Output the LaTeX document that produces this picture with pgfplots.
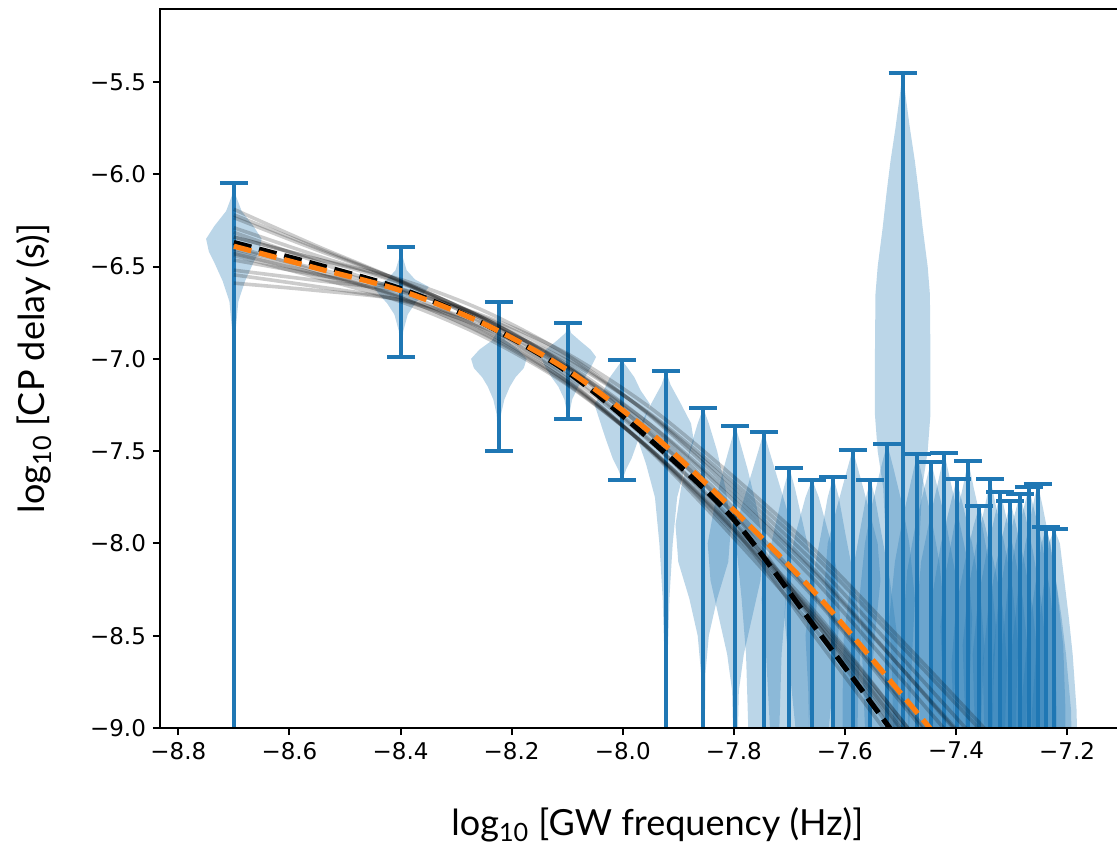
\documentclass[border=0pt]{standalone}
\usepackage{pgfplots}
\pgfplotsset{compat=1.18}
\usepackage{pgfplotstable}
\usepackage{fontspec}
\setmainfont{Lato}
\newfontfamily\tickfont{DejaVu Sans}
\definecolor{tabblue}{HTML}{1F77B4}
\definecolor{taborange}{HTML}{FF7F0E}

% error bars: position, upper and lower end
\pgfplotstableread{
x top bot
-8.700 -6.050 -9.6
-8.399 -6.396 -6.991
-8.223 -6.694 -7.501
-8.098 -6.806 -7.328
-8.001 -7.009 -7.657
-7.922 -7.067 -9.6
-7.855 -7.267 -9.6
-7.797 -7.366 -9.6
-7.746 -7.395 -9.6
-7.700 -7.591 -9.6
-7.659 -7.654 -9.6
-7.621 -7.638 -9.6
-7.586 -7.492 -9.6
-7.554 -7.654 -9.6
-7.524 -7.459 -9.6
-7.496 -5.451 -9.6
-7.470 -7.517 -9.6
-7.445 -7.558 -9.6
-7.421 -7.511 -9.6
-7.399 -7.652 -9.6
-7.378 -7.554 -9.6
-7.358 -7.796 -9.6
-7.338 -7.652 -9.6
-7.320 -7.724 -9.6
-7.302 -7.773 -9.6
-7.285 -7.734 -9.6
-7.269 -7.697 -9.6
-7.253 -7.676 -9.6
-7.238 -7.913 -9.6
-7.223 -7.922 -9.6
}\bars

% one violin: centre, then profile table (y, half width)
\newcommand{\violin}[2]{%
  \addplot[vio] table[x expr={#1-\thisrow{w}}, y=y, row sep=\\] {#2};
  \addplot[vio] table[x expr={#1+\thisrow{w}}, y=y, row sep=\\] {#2};
}

\begin{document}
\begin{tikzpicture}
\begin{axis}[
  name=ax,
  scale only axis,
  width=479.1pt, height=359.5pt,
  xmin=-8.833, xmax=-7.108,
  ymin=-9.0, ymax=-5.105,
  axis on top,
  axis line style={line width=1pt},
  tick style={line width=1pt, black},
  major tick length=3.5pt,
  tick align=outside,
  tick pos=left,
  xtick={-8.8,-8.6,-8.4,-8.2,-8.0,-7.8,-7.6,-7.4,-7.2},
  xticklabels={−8.8,−8.6,−8.4,−8.2,−8.0,−7.8,−7.6,−7.4,−7.2},
  ytick={-9.0,-8.5,-8.0,-7.5,-7.0,-6.5,-6.0,-5.5},
  yticklabels={−9.0,−8.5,−8.0,−7.5,−7.0,−6.5,−6.0,−5.5},
  ticklabel style={font=\tickfont\fontsize{11.5}{13}\selectfont},
  label style={font=\fontsize{18}{21}\selectfont},
  xlabel={log\textsubscript{10} [GW frequency (Hz)]},
  ylabel={log\textsubscript{10} [CP delay (s)]},
  xlabel style={at={(axis description cs:0.519,-0.1488)}, anchor=base},
  ylabel style={at={(axis description cs:-0.1315,0.5)}, anchor=center},
  vio/.style={fill=tabblue, fill opacity=0.3, draw=none, mark=none, forget plot},
  gline/.style={black, draw opacity=0.2, line width=1.8pt, smooth, mark=none, forget plot},
]

% violins
\violin{-8.700}{y w\\ -6.05 0\\ -6.12 0.004\\ -6.20 0.014\\ -6.28 0.035\\ -6.35 0.05\\ -6.42 0.045\\ -6.48 0.035\\ -6.58 0.02\\ -6.69 0.008\\ -6.85 0.003\\ -9.6 0.001\\ -9.61 0\\}
\violin{-8.399}{y w\\ -6.396 0\\ -6.45 0.003\\ -6.52 0.01\\ -6.57 0.025\\ -6.61 0.05\\ -6.65 0.04\\ -6.70 0.025\\ -6.76 0.012\\ -6.85 0.004\\ -6.991 0\\}
\violin{-8.223}{y w\\ -6.694 0\\ -6.85 0.003\\ -6.90 0.012\\ -6.95 0.035\\ -7.00 0.05\\ -7.05 0.045\\ -7.10 0.03\\ -7.15 0.02\\ -7.22 0.01\\ -7.30 0.004\\ -7.501 0\\}
\violin{-8.098}{y w\\ -6.806 0\\ -6.86 0.005\\ -6.90 0.02\\ -6.95 0.04\\ -6.99 0.05\\ -7.05 0.04\\ -7.10 0.03\\ -7.15 0.018\\ -7.22 0.007\\ -7.328 0\\}
\violin{-8.001}{y w\\ -7.009 0\\ -7.05 0.01\\ -7.10 0.022\\ -7.17 0.033\\ -7.245 0.05\\ -7.32 0.042\\ -7.43 0.03\\ -7.54 0.017\\ -7.60 0.007\\ -7.657 0\\}
\violin{-7.922}{y w\\ -7.067 0\\ -7.14 0.008\\ -7.245 0.027\\ -7.35 0.045\\ -7.445 0.05\\ -7.57 0.036\\ -7.75 0.02\\ -8.0 0.012\\ -8.3 0.006\\ -8.6 0.003\\ -9.6 0\\}
\violin{-7.855}{y w\\ -7.267 0\\ -7.35 0.01\\ -7.5 0.025\\ -7.7 0.04\\ -7.9 0.05\\ -8.1 0.045\\ -8.3 0.025\\ -8.5 0.01\\ -8.7 0.004\\ -9.6 0\\}
\violin{-7.797}{y w\\ -7.366 0\\ -7.45 0.008\\ -7.6 0.022\\ -7.8 0.038\\ -8.0 0.05\\ -8.2 0.045\\ -8.4 0.03\\ -8.6 0.015\\ -8.8 0.006\\ -9.6 0\\}
\violin{-7.746}{y w\\ -7.395 0\\ -7.5 0.01\\ -7.65 0.025\\ -7.85 0.045\\ -8.0 0.05\\ -8.3 0.04\\ -8.6 0.032\\ -9.0 0.028\\ -9.6 0.028\\ -9.61 0\\}
\violin{-7.700}{y w\\ -7.591 0\\ -7.7 0.01\\ -7.9 0.025\\ -8.1 0.04\\ -8.3 0.05\\ -8.6 0.042\\ -9.0 0.035\\ -9.6 0.035\\ -9.61 0\\}
\violin{-7.659}{y w\\ -7.654 0\\ -7.75 0.012\\ -7.95 0.03\\ -8.15 0.045\\ -8.4 0.05\\ -8.7 0.04\\ -9.0 0.03\\ -9.6 0.03\\ -9.61 0\\}
\violin{-7.621}{y w\\ -7.638 0\\ -7.75 0.01\\ -7.95 0.022\\ -8.2 0.038\\ -8.5 0.05\\ -8.8 0.045\\ -9.6 0.04\\ -9.61 0\\}
\violin{-7.586}{y w\\ -7.492 0\\ -7.6 0.01\\ -7.8 0.028\\ -8.0 0.045\\ -8.2 0.05\\ -8.5 0.04\\ -8.8 0.032\\ -9.6 0.03\\ -9.61 0\\}
\violin{-7.554}{y w\\ -7.654 0\\ -7.75 0.008\\ -7.95 0.02\\ -8.2 0.035\\ -8.5 0.048\\ -8.8 0.05\\ -9.6 0.05\\ -9.61 0\\}
\violin{-7.524}{y w\\ -7.459 0\\ -7.6 0.012\\ -7.8 0.028\\ -8.0 0.04\\ -8.3 0.05\\ -8.6 0.045\\ -9.0 0.04\\ -9.6 0.04\\ -9.61 0\\}
\violin{-7.496}{y w\\ -5.451 0\\ -5.57 0.005\\ -5.75 0.013\\ -5.93 0.022\\ -6.1 0.029\\ -6.29 0.036\\ -6.5 0.045\\ -6.65 0.049\\ -7.0 0.05\\ -7.3 0.05\\ -7.5 0.045\\ -7.7 0.035\\ -8.0 0.03\\ -8.4 0.03\\ -9.6 0.03\\ -9.61 0\\}
\violin{-7.470}{y w\\ -7.517 0\\ -7.65 0.01\\ -7.85 0.025\\ -8.1 0.04\\ -8.4 0.05\\ -8.7 0.045\\ -9.6 0.04\\ -9.61 0\\}
\violin{-7.445}{y w\\ -7.558 0\\ -7.7 0.012\\ -7.9 0.028\\ -8.15 0.043\\ -8.45 0.05\\ -8.8 0.042\\ -9.6 0.038\\ -9.61 0\\}
\violin{-7.421}{y w\\ -7.511 0\\ -7.65 0.01\\ -7.85 0.025\\ -8.1 0.042\\ -8.4 0.05\\ -8.8 0.045\\ -9.6 0.04\\ -9.61 0\\}
\violin{-7.399}{y w\\ -7.652 0\\ -7.8 0.012\\ -8.0 0.028\\ -8.25 0.042\\ -8.55 0.05\\ -8.9 0.045\\ -9.6 0.04\\ -9.61 0\\}
\violin{-7.378}{y w\\ -7.554 0\\ -7.7 0.01\\ -7.9 0.025\\ -8.15 0.04\\ -8.45 0.05\\ -8.8 0.045\\ -9.6 0.042\\ -9.61 0\\}
\violin{-7.358}{y w\\ -7.796 0\\ -7.9 0.01\\ -8.1 0.026\\ -8.35 0.042\\ -8.65 0.05\\ -9.0 0.046\\ -9.6 0.045\\ -9.61 0\\}
\violin{-7.338}{y w\\ -7.652 0\\ -7.8 0.01\\ -8.0 0.025\\ -8.25 0.04\\ -8.55 0.05\\ -8.9 0.046\\ -9.6 0.044\\ -9.61 0\\}
\violin{-7.320}{y w\\ -7.724 0\\ -7.85 0.01\\ -8.05 0.025\\ -8.3 0.04\\ -8.6 0.05\\ -9.0 0.046\\ -9.6 0.045\\ -9.61 0\\}
\violin{-7.302}{y w\\ -7.773 0\\ -7.9 0.01\\ -8.1 0.025\\ -8.35 0.04\\ -8.65 0.05\\ -9.0 0.047\\ -9.6 0.045\\ -9.61 0\\}
\violin{-7.285}{y w\\ -7.734 0\\ -7.85 0.01\\ -8.05 0.024\\ -8.3 0.038\\ -8.6 0.048\\ -8.9 0.05\\ -9.6 0.048\\ -9.61 0\\}
\violin{-7.269}{y w\\ -7.697 0\\ -7.82 0.01\\ -8.0 0.024\\ -8.25 0.038\\ -8.55 0.048\\ -8.9 0.05\\ -9.6 0.05\\ -9.61 0\\}
\violin{-7.253}{y w\\ -7.676 0\\ -7.8 0.009\\ -8.0 0.022\\ -8.25 0.035\\ -8.55 0.046\\ -8.9 0.05\\ -9.6 0.05\\ -9.61 0\\}
\violin{-7.238}{y w\\ -7.913 0\\ -8.0 0.008\\ -8.2 0.018\\ -8.4 0.028\\ -8.6 0.036\\ -8.9 0.045\\ -9.6 0.05\\ -9.61 0\\}
\violin{-7.223}{y w\\ -7.922 0\\ -8.0 0.01\\ -8.2 0.018\\ -8.4 0.026\\ -8.6 0.033\\ -8.9 0.04\\ -9.6 0.045\\ -9.61 0\\}

% error bars with caps
\addplot[draw=none, mark=none, forget plot,
  error bars/.cd, y dir=both, y explicit, error mark=|,
  error bar style={draw=tabblue, line width=2pt},
  error mark options={draw=tabblue, line width=2pt, mark size=7pt}]
  table[x=x, y expr={(\thisrow{top}+\thisrow{bot})/2},
        y error expr={(\thisrow{top}-\thisrow{bot})/2}] {\bars};

% posterior sample curves
\addplot[gline] coordinates {(-8.70,-6.59) (-8.55,-6.63) (-8.40,-6.68) (-8.25,-6.81) (-8.10,-7.01) (-7.95,-7.30) (-7.80,-7.67) (-7.65,-8.08) (-7.50,-8.55) (-7.35,-9.03)};
\addplot[gline] coordinates {(-8.70,-6.19) (-8.55,-6.39) (-8.40,-6.58) (-8.25,-6.81) (-8.10,-7.11) (-7.95,-7.50) (-7.80,-7.97) (-7.65,-8.48) (-7.50,-9.07) (-7.35,-9.67)};
\addplot[gline] coordinates {(-8.70,-6.465) (-8.55,-6.545) (-8.40,-6.625) (-8.25,-6.775) (-8.10,-6.995) (-7.95,-7.305) (-7.80,-7.695) (-7.65,-8.12) (-7.50,-8.61) (-7.35,-9.11)};
\addplot[gline] coordinates {(-8.70,-6.315) (-8.55,-6.475) (-8.40,-6.635) (-8.25,-6.845) (-8.10,-7.125) (-7.95,-7.495) (-7.80,-7.945) (-7.65,-8.44) (-7.50,-9.01) (-7.35,-9.59)};
\addplot[gline] coordinates {(-8.70,-6.545) (-8.55,-6.609) (-8.40,-6.683) (-8.25,-6.831) (-8.10,-7.049) (-7.95,-7.357) (-7.80,-7.745) (-7.65,-8.176) (-7.50,-8.67) (-7.35,-9.174)};
\addplot[gline] coordinates {(-8.70,-6.235) (-8.55,-6.411) (-8.40,-6.577) (-8.25,-6.789) (-8.10,-7.071) (-7.95,-7.443) (-7.80,-7.895) (-7.65,-8.384) (-7.50,-8.95) (-7.35,-9.526)};
\addplot[gline] coordinates {(-8.70,-6.34) (-8.55,-6.46) (-8.40,-6.59) (-8.25,-6.78) (-8.10,-7.04) (-7.95,-7.41) (-7.80,-7.84) (-7.65,-8.44) (-7.50,-9.05) (-7.35,-9.72)};
\addplot[gline] coordinates {(-8.70,-6.43) (-8.55,-6.54) (-8.40,-6.66) (-8.25,-6.84) (-8.10,-7.09) (-7.95,-7.45) (-7.80,-7.88) (-7.65,-8.42) (-7.50,-9.00) (-7.35,-9.61)};
\addplot[gline] coordinates {(-8.70,-6.34) (-8.55,-6.46) (-8.40,-6.57) (-8.25,-6.74) (-8.10,-6.98) (-7.95,-7.31) (-7.80,-7.72) (-7.65,-8.16) (-7.50,-8.67) (-7.35,-9.19)};
\addplot[gline] coordinates {(-8.70,-6.44) (-8.55,-6.56) (-8.40,-6.69) (-8.25,-6.88) (-8.10,-7.14) (-7.95,-7.49) (-7.80,-7.92) (-7.65,-8.40) (-7.50,-8.95) (-7.35,-9.51)};
\addplot[gline] coordinates {(-8.70,-6.52) (-8.55,-6.576) (-8.40,-6.634) (-8.25,-6.768) (-8.10,-6.972) (-7.95,-7.266) (-7.80,-7.64) (-7.65,-8.048) (-7.50,-8.518) (-7.35,-8.998) (-7.25,-9.33)};
\addplot[gline] coordinates {(-8.70,-6.39) (-8.55,-6.526) (-8.40,-6.668) (-8.25,-6.866) (-8.10,-7.134) (-7.95,-7.492) (-7.80,-7.93) (-7.65,-8.416) (-7.50,-8.974) (-7.35,-9.542)};
\addplot[gline] coordinates {(-8.70,-6.405) (-8.55,-6.513) (-8.40,-6.62) (-8.25,-6.789) (-8.10,-7.03) (-7.95,-7.358) (-7.80,-7.768) (-7.65,-8.214) (-7.50,-8.729) (-7.35,-9.254)};
\addplot[gline] coordinates {(-8.70,-6.29) (-8.55,-6.442) (-8.40,-6.586) (-8.25,-6.782) (-8.10,-7.048) (-7.95,-7.404) (-7.80,-7.84) (-7.65,-8.312) (-7.50,-8.858) (-7.35,-9.414)};
\addplot[gline] coordinates {(-8.70,-6.42) (-8.55,-6.54) (-8.40,-6.67) (-8.25,-6.86) (-8.10,-7.12) (-7.95,-7.49) (-7.80,-7.92) (-7.65,-8.52) (-7.50,-9.13) (-7.35,-9.80)};
\addplot[gline] coordinates {(-8.70,-6.22) (-8.55,-6.40) (-8.40,-6.58) (-8.25,-6.78) (-8.10,-7.04) (-7.95,-7.38) (-7.80,-7.81) (-7.65,-8.30) (-7.50,-8.84) (-7.35,-9.40)};

% reference curves
\addplot[black, line width=2.6pt, dash pattern=on 9pt off 4pt, smooth, mark=none]
  coordinates {(-8.70,-6.37) (-8.55,-6.49) (-8.40,-6.62) (-8.25,-6.81) (-8.10,-7.07) (-7.95,-7.44) (-7.80,-7.87) (-7.65,-8.47) (-7.50,-9.08) (-7.40,-9.52)};
\addplot[taborange, line width=2.6pt, dash pattern=on 9pt off 4pt, smooth, mark=none]
  coordinates {(-8.70,-6.39) (-8.55,-6.51) (-8.40,-6.63) (-8.25,-6.81) (-8.10,-7.06) (-7.95,-7.40) (-7.80,-7.82) (-7.65,-8.28) (-7.50,-8.81) (-7.35,-9.35)};
\end{axis}
\pgfresetboundingbox
\path[use as bounding box] ([xshift=-80pt,yshift=-58.5pt]ax.south west) rectangle ([xshift=-0.6pt,yshift=4.5pt]ax.north east);
\end{tikzpicture}
\end{document}
